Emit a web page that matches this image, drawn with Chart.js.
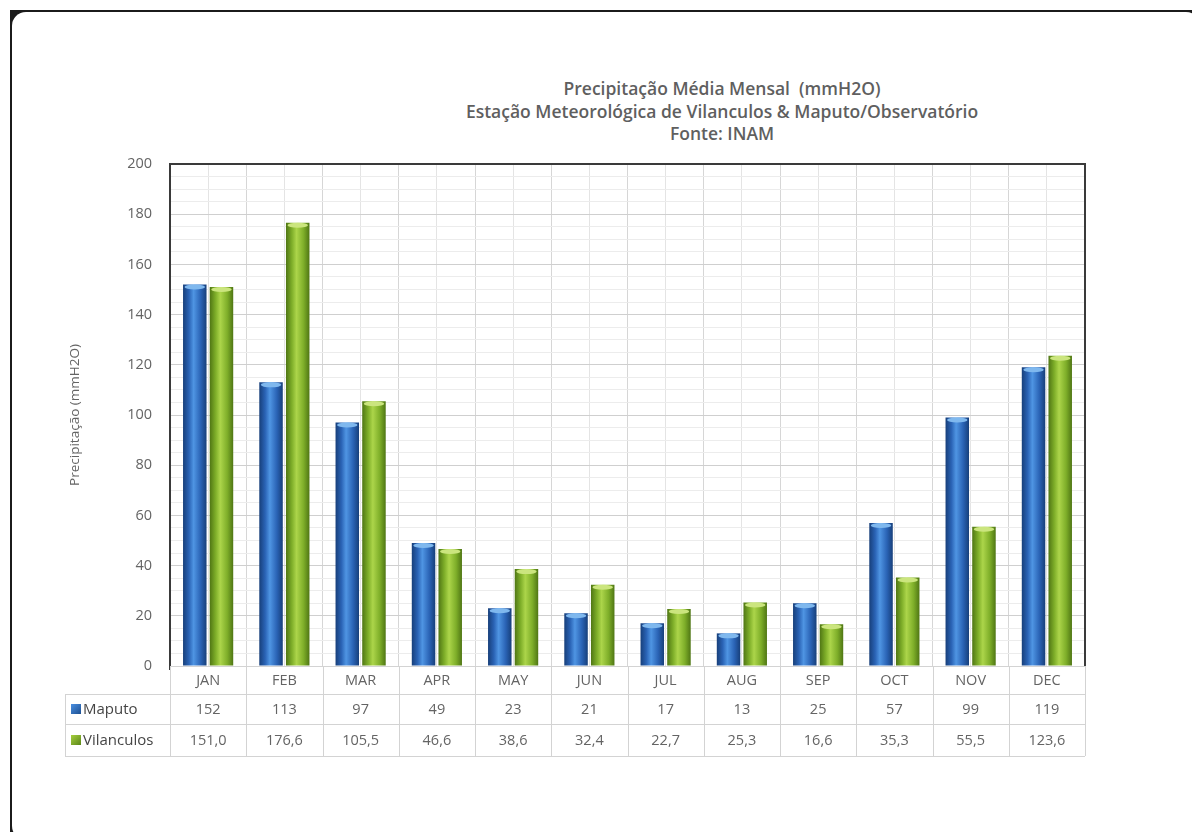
<!DOCTYPE html>
<html>
<head>
<meta charset="utf-8">
<script src="https://cdn.jsdelivr.net/npm/chart.js@4/dist/chart.umd.min.js"></script>
<style>
    html, body { margin: 0; padding: 0; background: #fff; }
    body { width: 1192px; height: 832px; position: relative; overflow: hidden; font-family: 'Open Sans', sans-serif; }
    #frame { position: absolute; left: 10px; top: 10px; width: 1190px; height: 830px; background: #1b1b1b; }
    #card { position: absolute; left: 2px; top: 2px; right: 0; bottom: 0; background: #fff; border-radius: 14px; }
    #title { position: absolute; left: 372px; width: 700px; top: 77px; text-align: center;
             color: #5f5f5f; font-weight: 600; font-size: 17.5px; line-height: 22.5px; }
    #wrap { position: absolute; left: 0; top: 0; width: 1192px; height: 832px; }
    canvas { display: block; }
</style>
</head>
<body>
<div id="frame"><div id="card"></div></div>
<div id="title">Precipitação Média Mensal&nbsp; (mmH2O)<br>Estação Meteorológica de Vilanculos &amp; Maputo/Observatório<br>Fonte: INAM</div>
<div id="wrap"><canvas id="chart" width="1192" height="832"></canvas></div>
<script>
'use strict';

const months = ['JAN', 'FEB', 'MAR', 'APR', 'MAY', 'JUN', 'JUL', 'AUG', 'SEP', 'OCT', 'NOV', 'DEC'];
const maputo = [152, 113, 97, 49, 23, 21, 17, 13, 25, 57, 99, 119];
const vilanculos = [151.0, 176.6, 105.5, 46.6, 38.6, 32.4, 22.7, 25.3, 16.6, 35.3, 55.5, 123.6];
const yTicks = [0, 20, 40, 60, 80, 100, 120, 140, 160, 180, 200];

const textGray = '#646464';

// Horizontal gradient so the bars look like the rounded excel bars
function barFill(dark, mid, light) {
    return (c) => {
        const el = c.element;
        if (!el || !el.width) return mid;
        const x0 = el.x - el.width / 2;
        const g = c.chart.ctx.createLinearGradient(x0, 0, x0 + el.width, 0);
        g.addColorStop(0, dark);
        g.addColorStop(0.25, mid);
        g.addColorStop(0.45, light);
        g.addColorStop(0.75, mid);
        g.addColorStop(1, dark);
        return g;
    };
}

// Light cap on top of every bar
const capPlugin = {
    id: 'caps',
    afterDatasetsDraw(chart) {
        const ctx = chart.ctx;
        const caps = ['#7fb8ee', '#cbe57e'];
        chart.data.datasets.forEach((ds, i) => {
            chart.getDatasetMeta(i).data.forEach((bar) => {
                const r = bar.width / 2 - 1.5;
                if (!(r > 0)) return;
                ctx.save();
                ctx.fillStyle = caps[i];
                ctx.beginPath();
                ctx.ellipse(bar.x, bar.y + 2.5, r, 2.5, 0, 0, Math.PI * 2);
                ctx.fill();
                ctx.restore();
            });
        });
    }
};

// Frame around the plot area and the data table under it
const tablePlugin = {
    id: 'dataTable',
    afterDraw(chart) {
        const {ctx, chartArea} = chart;
        const x = chart.scales.x;
        const half = (x.getPixelForValue(1) - x.getPixelForValue(0)) / 2;
        const top = chartArea.bottom;
        const rows = [top, top + 28, top + 58, top + 90];
        const leftCol = chartArea.left - 105;

        ctx.save();
        // dark frame top / left / right
        ctx.strokeStyle = '#3a3a3a';
        ctx.lineWidth = 2;
        ctx.beginPath();
        ctx.moveTo(chartArea.left, chartArea.bottom + 4);
        ctx.lineTo(chartArea.left, chartArea.top);
        ctx.lineTo(chartArea.right, chartArea.top);
        ctx.lineTo(chartArea.right, chartArea.bottom);
        ctx.stroke();

        // table lines
        ctx.strokeStyle = '#d3d3d3';
        ctx.lineWidth = 1;
        ctx.beginPath();
        ctx.moveTo(chartArea.left, rows[0] + 0.5);
        ctx.lineTo(chartArea.right, rows[0] + 0.5);
        for (let r = 1; r < 4; r++) {
            ctx.moveTo(leftCol, rows[r] + 0.5);
            ctx.lineTo(chartArea.right, rows[r] + 0.5);
        }
        ctx.moveTo(leftCol + 0.5, rows[1]);
        ctx.lineTo(leftCol + 0.5, rows[3]);
        for (let i = 0; i <= months.length; i++) {
            const px = Math.round(x.getPixelForValue(i) - half) + 0.5;
            ctx.moveTo(px, rows[0]);
            ctx.lineTo(px, rows[3]);
        }
        ctx.stroke();

        // cell texts
        ctx.font = '14.5px "Open Sans"';
        ctx.fillStyle = textGray;
        ctx.textAlign = 'center';
        ctx.textBaseline = 'middle';
        months.forEach((m, i) => {
            const px = x.getPixelForValue(i);
            ctx.fillText(m, px, (rows[0] + rows[1]) / 2 + 1);
            ctx.fillText(String(maputo[i]), px, (rows[1] + rows[2]) / 2 + 1);
            ctx.fillText(vilanculos[i].toFixed(1).replace('.', ','), px, (rows[2] + rows[3]) / 2 + 1);
        });

        // row headers with legend keys
        const keys = [['#1d4f91', '#4a90e2', 'Maputo'], ['#5a8619', '#a6cf3e', 'Vilanculos']];
        keys.forEach((k, r) => {
            const cy = (rows[r + 1] + rows[r + 2]) / 2;
            const g = ctx.createLinearGradient(leftCol + 6, cy - 5, leftCol + 16, cy + 5);
            g.addColorStop(0, k[1]);
            g.addColorStop(1, k[0]);
            ctx.fillStyle = g;
            ctx.fillRect(leftCol + 6, cy - 5, 10, 10);
            ctx.fillStyle = '#454545';
            ctx.textAlign = 'left';
            ctx.font = '15px "Open Sans"';
            ctx.fillText(k[2], leftCol + 18, cy + 1);
        });
        ctx.restore();
    }
};

const chart = new Chart(document.getElementById('chart'), {
    type: 'bar',
    data: {
        labels: months,
        datasets: [{
            label: 'Maputo',
            data: maputo,
            backgroundColor: barFill('#173f7a', '#2a63b5', '#4f95e3'),
            xAxisID: 'x'
        }, {
            label: 'Vilanculos',
            data: vilanculos,
            backgroundColor: barFill('#4f7614', '#7eae29', '#acd54a'),
            xAxisID: 'x'
        }]
    },
    options: {
        responsive: false,
        animation: false,
        devicePixelRatio: 1,
        categoryPercentage: 0.7,
        barPercentage: 0.88,
        layout: { padding: { left: 60, top: 164, right: 107, bottom: 76 } },
        plugins: {
            legend: { display: false },
            tooltip: { enabled: false }
        },
        scales: {
            x: {
                grid: { color: '#d6d6d6', drawTicks: false, offset: true },
                border: { display: false },
                ticks: { display: false },
                afterFit: (axis) => { axis.height = 90; }
            },
            // second category axis only for the lines through each month's middle
            xMid: {
                type: 'category',
                labels: months,
                position: 'bottom',
                offset: true,
                grid: { color: '#e4e4e4', drawTicks: false, offset: false },
                border: { display: false },
                ticks: { display: false },
                afterFit: (axis) => { axis.height = 0; }
            },
            y: {
                min: 0,
                max: 200,
                border: { display: false },
                grid: {
                    drawTicks: false,
                    color: (c) => c.tick.value % 20 === 0 ? '#cfcfcf' : '#ececec'
                },
                ticks: {
                    stepSize: 5,
                    autoSkip: false,
                    padding: 18,
                    color: textGray,
                    font: { family: 'Open Sans', size: 14.5 },
                    callback: (v) => yTicks.includes(v) ? v : ''
                },
                title: {
                    display: true,
                    text: 'Precipitação (mmH2O)',
                    color: textGray,
                    font: { family: 'Open Sans', size: 13.5 },
                    padding: { top: 7, bottom: 0 }
                },
                afterFit: (axis) => { axis.width = 110; }
            }
        }
    },
    plugins: [capPlugin, tablePlugin]
});
chart.update();
</script>
</body>
</html>
